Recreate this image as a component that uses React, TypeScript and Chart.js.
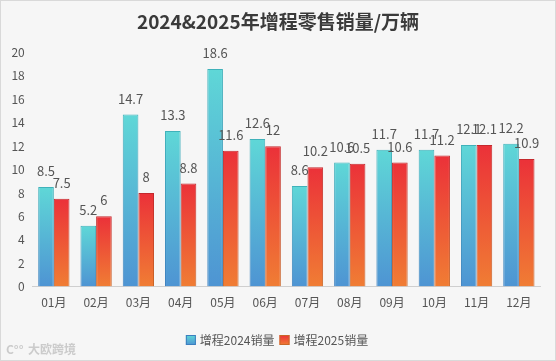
import React, { useEffect, useRef } from "react";
import { Chart, registerables } from "chart.js";

Chart.register(...registerables);

const categories = ["01月", "02月", "03月", "04月", "05月", "06月", "07月", "08月", "09月", "10月", "11月", "12月"];
const sales2024 = [8.5, 5.2, 14.7, 13.3, 18.6, 12.6, 8.6, 10.6, 11.7, 11.7, 12.1, 12.2];
const sales2025 = [7.5, 6, 8, 8.8, 11.6, 12, 10.2, 10.5, 10.6, 11.2, 12.1, 10.9];
const seriesNames = ["增程2024销量", "增程2025销量"];
const titleText = "2024&2025年增程零售销量/万辆";
const watermark = "大欧跨境";

const FONT = "'Noto Sans CJK SC', 'Noto Sans', sans-serif";
const TEXT = "#555555";

const palette = [
  { top: "#5fd7d7", bottom: "#4e94d3", bTop: "#3fb2ba", bBottom: "#3c7fbf" },
  { top: "#eb3139", bottom: "#f07d34", bTop: "#c4282d", bBottom: "#c96627" },
];

function barGradient(ctx: any, key: "fill" | "border") {
  const chart = ctx.chart;
  const p = palette[ctx.datasetIndex];
  const c1 = key === "fill" ? p.top : p.bTop;
  const c2 = key === "fill" ? p.bottom : p.bBottom;
  if (ctx.type !== "data" || !chart.chartArea || !chart.scales.y) return c1;
  const y = chart.scales.y;
  const v = ctx.raw as number;
  const top = y.getPixelForValue(v);
  const bottom = y.getPixelForValue(0);
  if (!isFinite(top) || !isFinite(bottom) || bottom - top < 1) return c1;
  const g = chart.ctx.createLinearGradient(0, top, 0, bottom);
  g.addColorStop(0, c1);
  g.addColorStop(1, c2);
  return g;
}

const labelPlugin = {
  id: "barLabels",
  afterDatasetsDraw(chart: any) {
    const ctx = chart.ctx;
    ctx.save();
    ctx.font = `13px ${FONT}`;
    ctx.fillStyle = TEXT;
    ctx.textAlign = "center";
    ctx.textBaseline = "alphabetic";
    chart.data.datasets.forEach((ds: any, di: number) => {
      const meta = chart.getDatasetMeta(di);
      meta.data.forEach((el: any, i: number) => {
        ctx.fillText(String(ds.data[i]), el.x, el.y - 11);
      });
    });
    ctx.restore();
  },
};

const decorPlugin = {
  id: "decor",
  afterDraw(chart: any) {
    const ctx = chart.ctx;
    ctx.save();
    // title
    ctx.font = `bold 19px ${FONT}`;
    ctx.fillStyle = "#3a3a3a";
    ctx.textAlign = "center";
    ctx.textBaseline = "middle";
    ctx.fillText(titleText, 277, 21);

    // legend
    ctx.font = `12px ${FONT}`;
    ctx.textAlign = "left";
    const box = 10;
    const gapText = 4;
    const gapItem = 5;
    const widths = seriesNames.map((n) => ctx.measureText(n).width);
    const total = widths.reduce((a, w) => a + box + gapText + w, 0) + gapItem;
    let x = 276 - total / 2;
    const cy = 339;
    seriesNames.forEach((n, i) => {
      const p = palette[i];
      const g = ctx.createLinearGradient(0, cy - box / 2, 0, cy + box / 2);
      g.addColorStop(0, p.top);
      g.addColorStop(1, p.bottom);
      ctx.fillStyle = g;
      ctx.fillRect(x, cy - box / 2, box, box);
      ctx.strokeStyle = p.bBottom;
      ctx.lineWidth = 1;
      ctx.strokeRect(x + 0.5, cy - box / 2 + 0.5, box - 1, box - 1);
      x += box + gapText;
      ctx.fillStyle = TEXT;
      ctx.fillText(n, x, cy + 0.5);
      x += widths[i] + gapItem;
    });

    // watermark
    ctx.font = `bold 12px ${FONT}`;
    ctx.fillStyle = "rgba(175,175,175,0.6)";
    ctx.fillText("C°°", 5, 348);
    ctx.fillText(watermark, 27, 348);
    ctx.restore();
  },
};

export default function App() {
  const ref = useRef<HTMLCanvasElement | null>(null);
  useEffect(() => {
    if (!ref.current) return;
    const chart = new Chart(ref.current, {
      type: "bar",
      data: {
        labels: categories,
        datasets: [
          {
            label: seriesNames[0],
            data: sales2024,
            backgroundColor: (c: any) => barGradient(c, "fill"),
            borderColor: (c: any) => barGradient(c, "border"),
            borderWidth: 1,
            categoryPercentage: 0.74,
            barPercentage: 1,
          },
          {
            label: seriesNames[1],
            data: sales2025,
            backgroundColor: (c: any) => barGradient(c, "fill"),
            borderColor: (c: any) => barGradient(c, "border"),
            borderWidth: 1,
            categoryPercentage: 0.74,
            barPercentage: 1,
          },
        ],
      },
      options: {
        responsive: false,
        animation: false,
        layout: { padding: { top: 51.5, right: 15, left: 0, bottom: 42 } },
        plugins: {
          title: { display: false },
          tooltip: { enabled: false },
          legend: { display: false },
        },
        scales: {
          x: {
            grid: { display: false, drawTicks: false },
            border: { display: true, color: "#cfcfcf" },
            ticks: { font: { family: FONT, size: 12 }, color: TEXT, padding: 8.5 },
          },
          y: {
            min: 0,
            max: 20,
            grid: { display: false, drawTicks: false },
            border: { display: false },
            ticks: { stepSize: 2, font: { family: FONT, size: 12 }, color: TEXT, padding: 8 },
            afterFit: (s: any) => {
              s.width = 31.7;
            },
          },
        },
      },
      plugins: [labelPlugin, decorPlugin],
    } as any);
    return () => chart.destroy();
  }, []);
  return (
    <div
      style={{
        position: "absolute",
        left: 0,
        top: 0,
        width: 556,
        height: 361,
        boxSizing: "border-box",
        border: "1px solid #d9d9d9",
        background: "#f6f6f6",
      }}
    >
      <canvas ref={ref} width={554} height={359} style={{ display: "block" }} />
    </div>
  );
}
